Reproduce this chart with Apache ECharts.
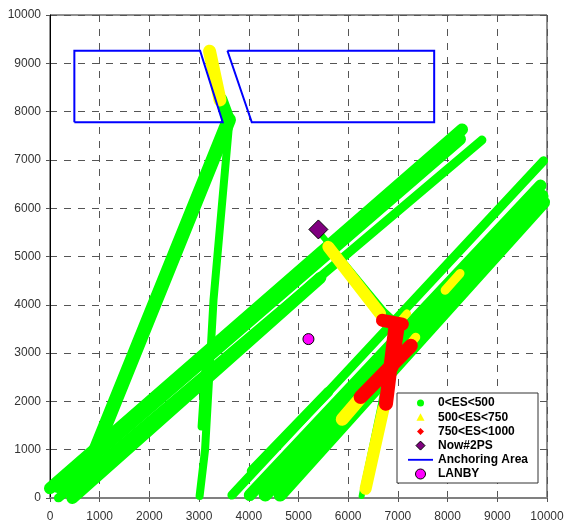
<!DOCTYPE html>
<html><head><meta charset="utf-8">
<script src="https://cdn.jsdelivr.net/npm/echarts@6/dist/echarts.min.js"></script>
<style>html,body{margin:0;padding:0;background:#fff}#c{width:564px;height:528px}</style>
</head><body><div id="c"></div>
<script>
// ---- data ----
const axisMin = 0, axisMax = 10000, axisStep = 1000;
const legendNames = ['0<ES<500', '500<ES<750', '750<ES<1000', 'Now#2PS', 'Anchoring Area', 'LANBY'];

const greenTracks = [
  [[0, 200], [8290, 7630]],
  [[150, 230], [8250, 7430]],
  [[170, 0], [8690, 7410]],
  [[450, 0], [5440, 4560]],
  [[700, 450], [3600, 7830]],
  [[3010, 40], [3120, 1000], [3290, 4100], [3610, 7820]],
  [[3050, 1480], [3150, 3000]],
  [[3600, 7830], [3450, 8250]],
  [[3660, 60], [9930, 6980]],
  [[4020, 60], [9870, 6470]],
  [[4330, 60], [9900, 6250]],
  [[4630, 60], [9930, 6120]],
  [[4060, 560], [5600, 2200]],
  [[5420, 5500], [6720, 3880], [6960, 3650]],
  [[6270, 40], [6650, 1900], [6820, 2900]]
];
const yellowTracks = [
  [[3420, 8240], [3210, 9250]],
  [[5600, 5200], [6640, 3820]],
  [[6710, 1850], [6350, 190]],
  [[6230, 2050], [5880, 1630]],
  [[7080, 3700], [7180, 3820]],
  [[7220, 3150], [7360, 3330]],
  [[7950, 4300], [8250, 4650]]
];
const redTracks = [
  [[6690, 3680], [7090, 3600]],
  [[6950, 3550], [6760, 1950]],
  [[7010, 3500], [6890, 2700]],
  [[7260, 3150], [6250, 2090]]
];
const anchorLeft = [[490, 7780], [490, 9260], [3020, 9260], [3475, 7780], [490, 7780]];
const anchorRight = [[3570, 9260], [7730, 9260], [7730, 7780], [4060, 7780], [3570, 9260]];
const now2PS = [[5400, 5560]];
const lanby = [[5200, 3290]];

// ---- styles (kept apart from the data) ----
const greenWidths = [12, 12, 9, 12, 14, 8, 8, 12, 9, 12, 13, 13, 10, 6, 6];
const yellowWidths = [13, 12, 12, 13, 8, 9, 9];
const redWidths = [13, 14, 12, 14];
const colors = {green: '#00ff00', yellow: '#ffff00', red: '#ff0000', now: '#800080', anchor: '#0000ff', lanby: '#ff00ff'};

const legendIcons = [
  'path://M0,0M10,10M8.5,5A3.5,3.5,0,1,1,1.5,5A3.5,3.5,0,1,1,8.5,5Z',
  'path://M0,0M10,10M5,1L9,8.5L1,8.5Z',
  'path://M0,0M10,10M5,1.5L8.5,5L5,8.5L1.5,5Z',
  'path://M0,0M10,10M5,0.5L9.5,5L5,9.5L0.5,5Z',
  'path://M0,0M27,10M0,4L27,4L27,6L0,6Z',
  'circle'
];
const legendItemStyles = [
  {borderWidth: 0, opacity: 1}, {borderWidth: 0, opacity: 1}, {borderWidth: 0, opacity: 1},
  {borderWidth: 1, borderColor: '#000', opacity: 1}, {borderWidth: 0, opacity: 1},
  {borderWidth: 1, borderColor: '#000', opacity: 1}
];

function track(name, data, color, width, z, cap) {
  return {
    type: 'line', name: name, data: data, color: color, symbol: 'none', showSymbol: false,
    z: z, silent: true, animation: false, emphasis: {disabled: true},
    lineStyle: {color: color, width: width, cap: cap || 'round', join: cap ? 'miter' : 'round', opacity: 1}
  };
}

const series = [];
greenTracks.forEach((t, i) => series.push(track(legendNames[0], t, colors.green, greenWidths[i], 2)));
yellowTracks.forEach((t, i) => series.push(track(legendNames[1], t, colors.yellow, yellowWidths[i], 3)));
redTracks.forEach((t, i) => series.push(track(legendNames[2], t, colors.red, redWidths[i], 4)));
series.push({type: 'scatter', name: legendNames[3], data: now2PS, symbol: 'diamond', symbolSize: 19, z: 6,
  itemStyle: {color: colors.now, borderColor: '#000', borderWidth: 1, opacity: 1}, silent: true, animation: false});
series.push(track(legendNames[4], anchorLeft, colors.anchor, 2, 5, 'butt'));
series.push(track(legendNames[4], anchorRight, colors.anchor, 2, 5, 'butt'));
series.push({type: 'scatter', name: legendNames[5], data: lanby, symbol: 'circle', symbolSize: 11, z: 6,
  itemStyle: {color: colors.lanby, borderColor: '#000', borderWidth: 1, opacity: 1}, silent: true, animation: false});

const labelFont = 'Liberation Sans';
const plain = v => String(v);
const chart = echarts.init(document.getElementById('c'), null, {renderer: 'canvas'});
chart.setOption({
  animation: false,
  backgroundColor: '#fff',
  grid: {left: 50, right: 17, top: 15, bottom: 30, show: true, borderColor: '#222', borderWidth: 1,
    backgroundColor: 'transparent', outerBoundsMode: 'none', containLabel: false},
  xAxis: {
    type: 'value', min: axisMin, max: axisMax, interval: axisStep,
    axisLine: {show: true, onZero: false, lineStyle: {color: '#808080', width: 2}},
    axisTick: {show: true, length: 4, inside: false, lineStyle: {color: '#555'}},
    axisLabel: {margin: 13, fontSize: 12, color: '#333', fontFamily: labelFont, formatter: plain},
    splitLine: {show: true, lineStyle: {color: '#555', type: [7, 7], width: 1}}
  },
  yAxis: {
    type: 'value', min: axisMin, max: axisMax, interval: axisStep,
    axisLine: {show: true, onZero: false, lineStyle: {color: '#000', width: 1}},
    axisTick: {show: true, length: 4, inside: false, lineStyle: {color: '#555'}},
    axisLabel: {margin: 9, fontSize: 12, color: '#333', fontFamily: labelFont, formatter: plain},
    splitLine: {show: true, lineStyle: {color: '#555', type: [7, 7], width: 1}}
  },
  legend: {
    orient: 'vertical', left: 397, top: 393, padding: [4, 10, 3, 11], itemGap: 2.2,
    itemWidth: 25, itemHeight: 10, backgroundColor: '#fff', borderColor: '#333', borderWidth: 1,
    selectedMode: false,
    textStyle: {fontFamily: 'Liberation Sans', fontWeight: 'bold', fontSize: 12, color: '#000'},
    data: legendNames.map((n, i) => ({name: n, icon: legendIcons[i], itemStyle: legendItemStyles[i]}))
  },
  series: series
});
</script>
</body></html>
